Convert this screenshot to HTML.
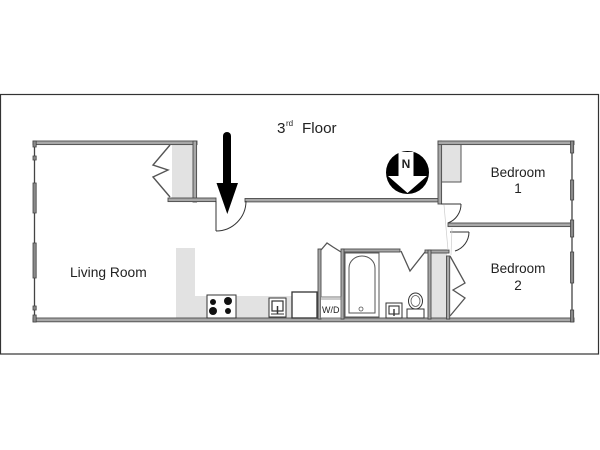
<!DOCTYPE html>
<html><head><meta charset="utf-8"><style>
html,body{margin:0;padding:0;background:#fff;}
svg{display:block;}
text{font-family:"Liberation Sans",Arial,sans-serif;fill:#222;}
</style></head><body>
<svg width="600" height="450" viewBox="0 0 600 450" xmlns="http://www.w3.org/2000/svg">
<rect x="0" y="0" width="600" height="450" fill="#fff"/>
<!-- frame -->
<rect x="0.5" y="94.5" width="598" height="259.5" fill="none" stroke="#333" stroke-width="1.2"/>

<!-- gray fills -->
<g fill="#e2e2e2">
  <rect x="172" y="145" width="21" height="53"/>
  <rect x="176" y="248" width="19" height="71"/>
  <rect x="176" y="296" width="142" height="22"/>
  <rect x="442" y="145" width="19" height="37"/>
  <rect x="431" y="253" width="16" height="65"/>
</g>
<rect x="441.5" y="144.5" width="19.5" height="37.5" fill="none" stroke="#555" stroke-width="1"/>

<!-- walls -->
<g fill="#a8a8a8" stroke="#4a4a4a" stroke-width="0.9">
  <rect x="33" y="141" width="164" height="3.6"/>
  <rect x="193" y="141" width="3.6" height="61"/>
  <rect x="168" y="198" width="48" height="3.6"/>
  <rect x="245" y="198.5" width="194" height="3.4"/>
  <rect x="438" y="141" width="3.6" height="63"/>
  <rect x="438" y="141" width="136" height="3.6"/>
  <rect x="448" y="223" width="125" height="3.6"/>
  <rect x="33" y="318" width="541" height="3.8"/>
  <rect x="446.5" y="256" width="3.2" height="63"/>
  <rect x="425" y="250" width="24" height="3"/>
  <rect x="428" y="250" width="3" height="69"/>
  <rect x="342" y="249" width="58" height="3"/>
  <rect x="341" y="249" width="3" height="70"/>
  <rect x="318" y="249" width="3" height="70"/>
</g>

<!-- left window wall -->
<line x1="34.5" y1="141" x2="34.5" y2="322" stroke="#444" stroke-width="1.3"/>
<g fill="#8a8a8a" stroke="#444" stroke-width="0.8">
  <rect x="33" y="141" width="3.2" height="6"/>
  <rect x="33" y="156" width="3.2" height="4"/>
  <rect x="33" y="183" width="3.2" height="30"/>
  <rect x="33" y="243" width="3.2" height="35"/>
  <rect x="33" y="306" width="3.2" height="4"/>
  <rect x="33" y="315" width="3.2" height="7"/>
</g>
<!-- right window wall -->
<line x1="572" y1="141" x2="572" y2="322" stroke="#444" stroke-width="1.3"/>
<g fill="#8a8a8a" stroke="#444" stroke-width="0.8">
  <rect x="570.5" y="141" width="3.2" height="12"/>
  <rect x="570.5" y="180" width="3.2" height="20"/>
  <rect x="570.5" y="220" width="3.2" height="17"/>
  <rect x="570.5" y="252" width="3.2" height="31"/>
  <rect x="570.5" y="310" width="3.2" height="12"/>
</g>

<!-- doors -->
<g fill="none" stroke="#333" stroke-width="1">
  <!-- living closet bifold -->
  <polyline points="170,145 153,165 168,170 153,177 170,197" stroke="#555" stroke-width="1.4"/>
  <!-- entry -->
  <line x1="216" y1="201" x2="216" y2="231"/>
  <path d="M216,231 A30,30 0 0 0 246,201"/>
  <!-- bedroom 1 door -->
  <line x1="441" y1="204" x2="461" y2="204"/>
  <path d="M461,204 A20,20 0 0 1 448,223"/>
  <!-- bedroom 2 door -->
  <line x1="450" y1="232" x2="469" y2="232"/>
  <path d="M469,232 A20,20 0 0 1 455,251"/>
  <!-- bedroom 2 closet bifold -->
  <polyline points="450,256 465,283 453,290 465,298 450,316" stroke="#555" stroke-width="1.3"/>
  <!-- bathroom door -->
  <polyline points="401,251 410,271 425,252" stroke="#555" stroke-width="1.3"/>
  <!-- wd closet door -->
  <polyline points="321,250 327,243 333,247 341,252" stroke="#555" stroke-width="1.3"/>
</g>
<g stroke="#ccc" stroke-width="0.7" fill="none">
  <line x1="444" y1="205" x2="448" y2="250"/>
  <line x1="452" y1="228" x2="451" y2="255"/>
</g>

<!-- kitchen appliances -->
<rect x="207" y="295" width="29" height="23" fill="#fff" stroke="#333" stroke-width="1"/>
<g fill="#111">
  <circle cx="213" cy="302" r="3"/>
  <circle cx="228" cy="301" r="4"/>
  <circle cx="213" cy="311" r="4"/>
  <circle cx="228" cy="311" r="3"/>
</g>
<rect x="269" y="298" width="17" height="19" fill="#fff" stroke="#333" stroke-width="1"/>
<rect x="272" y="301" width="11" height="10" fill="#fff" stroke="#333" stroke-width="1.2"/>
<line x1="277.5" y1="306" x2="277.5" y2="314" stroke="#333" stroke-width="1.5"/>
<line x1="271" y1="314" x2="284" y2="314" stroke="#333" stroke-width="1"/>
<rect x="292" y="292" width="25" height="26" fill="#fff" stroke="#333" stroke-width="1.3"/>
<rect x="320.5" y="297" width="20.5" height="21" fill="#fff" stroke="#777" stroke-width="1"/>
<line x1="320.5" y1="299" x2="341" y2="299" stroke="#777" stroke-width="0.8"/>
<text x="330.8" y="313" font-size="9" text-anchor="middle" fill="#333">W/D</text>

<!-- bathroom -->
<rect x="345" y="253" width="34" height="64" fill="#fff" stroke="#555" stroke-width="1"/>
<path d="M349,313 L349,268 A13,12 0 0 1 375,268 L375,313 Z" fill="#fff" stroke="#555" stroke-width="1"/>
<circle cx="361" cy="309" r="2" fill="none" stroke="#555" stroke-width="0.8"/>
<rect x="386" y="303" width="16" height="15" fill="#fff" stroke="#333" stroke-width="1"/>
<rect x="389" y="306" width="10" height="8" fill="#fff" stroke="#333" stroke-width="1.1"/>
<line x1="394" y1="309" x2="394" y2="316" stroke="#333" stroke-width="1.4"/>
<rect x="407" y="309" width="17" height="9" fill="#fff" stroke="#333" stroke-width="1"/>
<ellipse cx="415.5" cy="301" rx="7" ry="8" fill="#fff" stroke="#333" stroke-width="1"/>
<ellipse cx="415.5" cy="301" rx="4.5" ry="5.5" fill="none" stroke="#555" stroke-width="0.8"/>

<!-- entry arrow -->
<line x1="227" y1="136" x2="227" y2="186" stroke="#000" stroke-width="8" stroke-linecap="round"/>
<polygon points="216.5,183 238,183 227.3,214" fill="#000"/>

<!-- compass -->
<circle cx="407.5" cy="172.5" r="21.5" fill="#000"/>
<polygon points="398.5,152 413.5,152 413.5,176 427,176 407.5,193 388,176 398.5,176" fill="#fff"/>
<text x="406" y="168" font-size="12" font-weight="bold" text-anchor="middle" fill="#000">N</text>

<!-- labels -->
<text x="277" y="133" font-size="15.2">3</text>
<text x="286" y="126" font-size="8">rd</text>
<text x="302" y="133" font-size="15.2">Floor</text>
<text x="70" y="277" font-size="13.8">Living Room</text>
<text x="518" y="177" font-size="13.5" text-anchor="middle">Bedroom</text>
<text x="518" y="193" font-size="13.5" text-anchor="middle">1</text>
<text x="518" y="273" font-size="13.5" text-anchor="middle">Bedroom</text>
<text x="518" y="290" font-size="13.5" text-anchor="middle">2</text>
</svg>
</body></html>
